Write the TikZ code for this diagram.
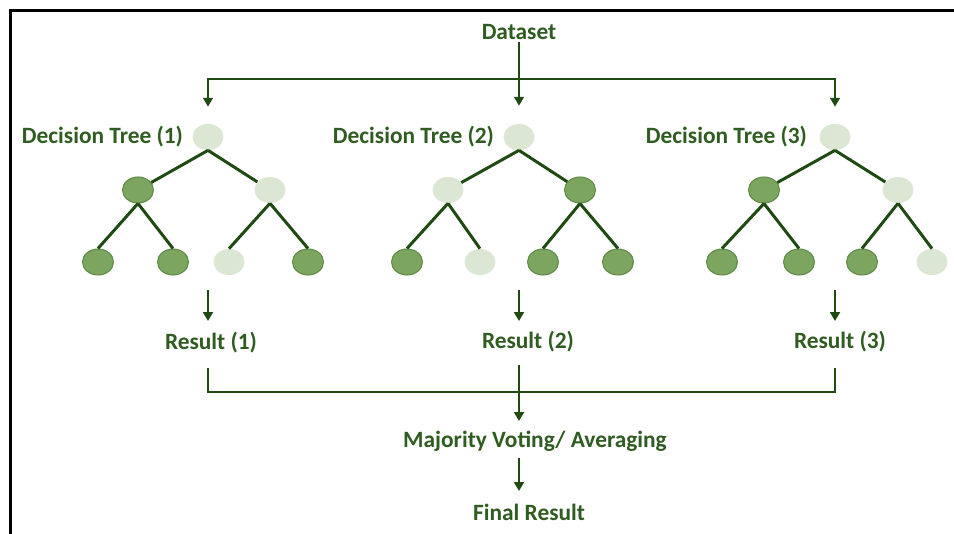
\documentclass[tikz,border=0pt]{standalone}
\usepackage{fontspec}
\setmainfont{Carlito}
\usetikzlibrary{shapes.geometric,arrows.meta,positioning}

\definecolor{fulldot}{HTML}{7CA660}
\definecolor{fullrim}{HTML}{5F8B47}
\definecolor{paledot}{HTML}{DCE7D3}
\definecolor{wire}{HTML}{1F4A12}
\definecolor{ink}{HTML}{2F5C20}

\tikzset{
  dark/.style={ellipse, fill=fulldot, draw=fullrim, line width=0.6pt, minimum width=0.62cm, minimum height=0.52cm, inner sep=0pt},
  pale/.style={ellipse, fill=paledot, minimum width=0.62cm, minimum height=0.52cm, inner sep=0pt},
  branch/.style={draw=wire, line width=1.7pt},
  flow/.style={draw=wire, line width=1.4pt, -{Triangle[length=5pt,width=5.5pt]}},
  rail/.style={draw=wire, line width=1.4pt},
  lbl/.style={text=ink, font=\fontsize{13.3}{15}\selectfont\bfseries, inner sep=1pt}
}

\begin{document}
\begin{tikzpicture}[x=0.02cm, y=-0.02cm]
  \useasboundingbox (0,0) rectangle (954,534);
  \fill[white] (0,0) rectangle (954,534);
  % frame, top and left only
  \draw[line width=2.2pt, line cap=rect] (10.5,534) -- (10.5,10.5) -- (954,10.5);

  \node[lbl] (data) at (519,32) {Dataset};

  % tree 1
  \node[pale] (t1r) at (208,137) {};
  \node[dark] (t1a) at (138,190) {};
  \node[pale] (t1b) at (270,190) {};
  \node[dark] (t1aa) at (98,262) {};
  \node[dark] (t1ab) at (173,262) {};
  \node[pale] (t1ba) at (229,262) {};
  \node[dark] (t1bb) at (308,262) {};
  \node[lbl, left=0.14cm of t1r] (t1name) {Decision Tree (1)};

  \draw[branch] (t1r.south) -- (t1a);
  \draw[branch] (t1r.south) -- (t1b);
  \draw[branch] (t1a.south) -- (t1aa.north);
  \draw[branch] (t1a.south) -- (t1ab.north);
  \draw[branch] (t1b.south) -- (t1ba.north);
  \draw[branch] (t1b.south) -- (t1bb.north);

  % tree 2
  \node[pale] (t2r) at (519,137) {};
  \node[pale] (t2a) at (448,190) {};
  \node[dark] (t2b) at (580,190) {};
  \node[dark] (t2aa) at (407,262) {};
  \node[pale] (t2ab) at (480,262) {};
  \node[dark] (t2ba) at (543,262) {};
  \node[dark] (t2bb) at (618,262) {};
  \node[lbl, left=0.14cm of t2r] (t2name) {Decision Tree (2)};

  \draw[branch] (t2r.south) -- (t2a);
  \draw[branch] (t2r.south) -- (t2b);
  \draw[branch] (t2a.south) -- (t2aa.north);
  \draw[branch] (t2a.south) -- (t2ab.north);
  \draw[branch] (t2b.south) -- (t2ba.north);
  \draw[branch] (t2b.south) -- (t2bb.north);

  % tree 3
  \node[pale] (t3r) at (835,137) {};
  \node[dark] (t3a) at (764,190) {};
  \node[pale] (t3b) at (898,190) {};
  \node[dark] (t3aa) at (722,262) {};
  \node[dark] (t3ab) at (799,262) {};
  \node[dark] (t3ba) at (862,262) {};
  \node[pale] (t3bb) at (932,262) {};
  \node[lbl, left=0.2cm of t3r] (t3name) {Decision Tree (3)};

  \draw[branch] (t3r.south) -- (t3a);
  \draw[branch] (t3r.south) -- (t3b);
  \draw[branch] (t3a.south) -- (t3aa.north);
  \draw[branch] (t3a.south) -- (t3ab.north);
  \draw[branch] (t3b.south) -- (t3ba.north);
  \draw[branch] (t3b.south) -- (t3bb.north);

  % dataset split
  \coordinate (split) at (519,79);
  \draw[flow, shorten >=0.36cm] (data) -- (t2r);
  \draw[flow, shorten >=0.34cm] (split) -| (t1r);
  \draw[flow, shorten >=0.34cm] (split) -| (t3r);

  % results
  \node[lbl] (res1) at (211,343) {Result (1)};
  \node[lbl] (res2) at (528,342) {Result (2)};
  \node[lbl] (res3) at (840,342) {Result (3)};
  \coordinate (o1) at (208,290);
  \coordinate (o2) at (519,290);
  \coordinate (o3) at (835,290);
  \coordinate (i1) at (208,321);
  \coordinate (i2) at (519,321);
  \coordinate (i3) at (835,321);
  \draw[flow] (o1) -- (i1);
  \draw[flow] (o2) -- (i2);
  \draw[flow] (o3) -- (i3);

  % gathering
  \coordinate (g1) at (208,368);
  \coordinate (g2) at (519,365);
  \coordinate (g3) at (835,368);
  \coordinate (join) at (519,392);
  \node[lbl] (vote) at (535,441) {Majority Voting/ Averaging};
  \node[lbl] (final) at (529,512) {Final Result};
  \coordinate (v2) at (519,421);
  \coordinate (f1) at (519,458);
  \coordinate (f2) at (519,491);
  \draw[rail] (g1) |- (join) -| (g3);
  \draw[flow] (g2) -- (v2);
  \draw[flow] (f1) -- (f2);
\end{tikzpicture}
\end{document}
